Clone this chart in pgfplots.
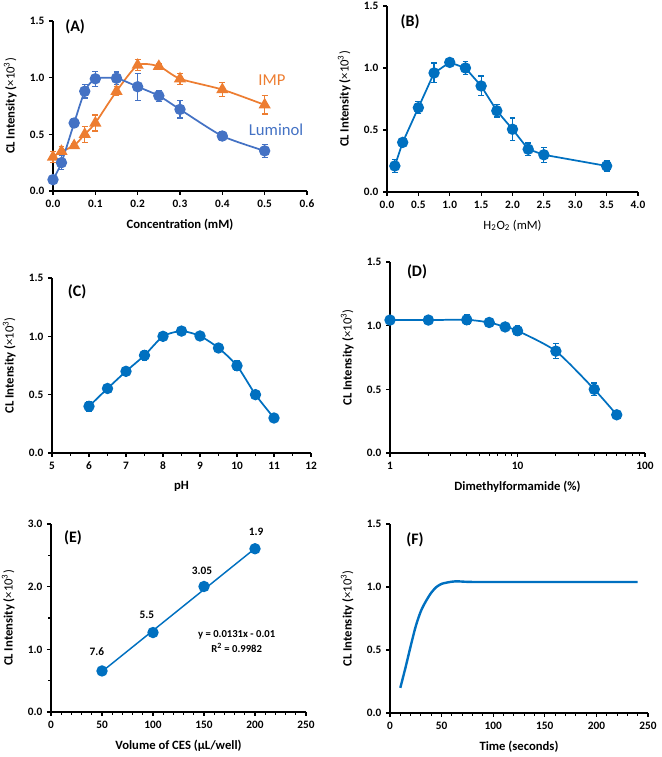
\documentclass[border=0pt]{standalone}
\usepackage{fontspec}
\setmainfont{Carlito}
\usepackage{pgfplots}
\pgfplotsset{compat=1.18}
\definecolor{lumblue}{RGB}{68,114,196}
\definecolor{imporange}{RGB}{237,125,49}
\definecolor{cblue}{RGB}{0,112,192}
\pgfplotsset{
  panel/.style={
    scale only axis, anchor=south west, clip=false,
    axis x line*=bottom, axis y line*=left,
    axis line style={line width=1pt, black},
    tick align=outside, major tick length=3pt, minor tick length=2pt,
    every tick/.style={black, line width=0.8pt},
    tick label style={font=\bfseries\fontsize{8.5}{10}\selectfont},
    label style={font=\fontsize{9.5}{11}\selectfont},
    /pgf/number format/assume math mode=true,
    ymin=0, ymax=1.5, ytick={0,0.5,1,1.5},
    yticklabel style={/pgf/number format/.cd, fixed, fixed zerofill, precision=1},
    ylabel={\bfseries CL Intensity (\mdseries×10\textsuperscript{3})},
    ylabel style={yshift=3pt},
    xlabel style={yshift=-2pt},
  },
  ser/.style={color=#1, line width=1.3pt, mark=*, mark size=3.6pt,
    mark options={fill=#1, draw=#1, solid},
    error bars/.cd, y dir=both, y explicit,
    error bar style={line width=0.9pt, #1},
    error mark options={rotate=90, mark size=2.2pt, line width=0.9pt, #1},
    /pgfplots/.cd},
}
\newcommand{\plab}[1]{\node[font=\bfseries\fontsize{12}{14}\selectfont] at (axis description cs:#1)}
\begin{document}
\begin{tikzpicture}
\useasboundingbox (0,0) rectangle (495.75pt,567.75pt);
% (A)
\begin{axis}[panel, at={(39.75pt,424.5pt)}, width=190.5pt, height=127.5pt,
  xmin=0, xmax=0.6, xtick={0,0.1,...,0.6},
  xticklabel style={/pgf/number format/.cd, fixed, fixed zerofill, precision=1},
  xlabel={\bfseries Concentration (mM)}]
\addplot[ser=imporange, smooth, tension=0.4, mark=triangle*, mark size=4pt] coordinates {
 (0,0.30) +- (0,0.05) (0.02,0.35) +- (0,0.04) (0.05,0.40) +- (0,0.02)
 (0.075,0.50) +- (0,0.07) (0.1,0.60) +- (0,0.07) (0.15,0.88) +- (0,0.04)
 (0.2,1.11) +- (0,0.05) (0.25,1.10) +- (0,0.02) (0.3,0.99) +- (0,0.05)
 (0.4,0.895) +- (0,0.06) (0.5,0.76) +- (0,0.08)};
\addplot[ser=lumblue, smooth, tension=0.4] coordinates {
 (0,0.10) +- (0,0.02) (0.02,0.25) +- (0,0.06) (0.05,0.60) +- (0,0.035)
 (0.075,0.88) +- (0,0.06) (0.1,0.99) +- (0,0.067) (0.15,0.995) +- (0,0.055)
 (0.2,0.92) +- (0,0.12) (0.25,0.84) +- (0,0.05) (0.3,0.72) +- (0,0.076)
 (0.4,0.485) +- (0,0.04) (0.5,0.354) +- (0,0.055)};
\node[text=imporange, font=\fontsize{12.5}{14}\selectfont] at (axis cs:0.517,0.98) {IMP};
\node[text=lumblue, font=\fontsize{12.5}{14}\selectfont] at (axis cs:0.527,0.538) {Luminol};
\plab{0.087,0.965} {(A)};
\end{axis}
% (B)
\begin{axis}[panel, at={(290.25pt,423.75pt)}, width=188.25pt, height=139.5pt,
  xmin=0, xmax=4, xtick={0,0.5,...,4},
  xticklabel style={/pgf/number format/.cd, fixed, fixed zerofill, precision=1},
  xlabel={H\textsubscript{2}O\textsubscript{2} (mM)}]
\addplot[ser=cblue] coordinates {
 (0.125,0.21) +- (0,0.05) (0.25,0.40) +- (0,0.03) (0.5,0.68) +- (0,0.05)
 (0.75,0.96) +- (0,0.08) (1.0,1.045) +- (0,0.03) (1.25,1.0) +- (0,0.05)
 (1.5,0.855) +- (0,0.08) (1.75,0.655) +- (0,0.05) (2.0,0.506) +- (0,0.09)
 (2.25,0.345) +- (0,0.05) (2.5,0.30) +- (0,0.06) (3.5,0.21) +- (0,0.04)};
\plab{0.092,0.914} {(B)};
\end{axis}
% (C)
\begin{axis}[panel, at={(39pt,228pt)}, width=194.25pt, height=131.25pt,
  xmin=5, xmax=12, xtick={5,...,12}, minor x tick num=1,
  xlabel={\bfseries pH}]
\addplot[ser=cblue, smooth, tension=0.4] coordinates {
 (6,0.40) +- (0,0.04) (6.5,0.553) +- (0,0.02) (7,0.70) +- (0,0.02)
 (7.5,0.837) +- (0,0.04) (8,1.0) +- (0,0.03) (8.5,1.045) +- (0,0.02)
 (9,1.003) +- (0,0.02) (9.5,0.90) +- (0,0.02) (10,0.748) +- (0,0.04)
 (10.5,0.50) +- (0,0.02) (11,0.30) +- (0,0.02)};
\plab{0.097,0.92} {(C)};
\end{axis}
% (D)
\begin{axis}[panel, at={(292.5pt,228pt)}, width=191.25pt, height=143.25pt,
  xmode=log, xmin=1, xmax=100, xtick={1,10,100}, xticklabels={1,10,100},
  xlabel={\bfseries Dimethylformamide (\%)}]
\addplot[ser=cblue, smooth, tension=0.4] coordinates {
 (1,1.044) +- (0,0.01) (2,1.044) +- (0,0.03) (4,1.046) +- (0,0.04)
 (6,1.025) +- (0,0.01) (8,0.99) +- (0,0.02) (10,0.96) +- (0,0.04)
 (20,0.80) +- (0,0.06) (40,0.50) +- (0,0.05) (60,0.30) +- (0,0.02)};
\plab{0.106,0.948} {(D)};
\end{axis}
% (E)
\begin{axis}[panel, at={(38.25pt,33.75pt)}, width=191.25pt, height=141pt,
  xmin=0, xmax=250, xtick={0,50,...,250}, minor x tick num=4,
  ymax=3, ytick={0,1,2,3}, minor y tick num=1,
  xlabel={\bfseries Volume of CES (µL/well)}]
\addplot[cblue, line width=1.1pt] coordinates {(50,0.645) (200,2.61)};
\addplot[ser=cblue, only marks] coordinates {
 (50,0.655) +- (0,0.02) (100,1.268) +- (0,0.05) (150,2.003) +- (0,0.03) (200,2.605) +- (0,0.02)};
\begin{scope}[font=\bfseries\fontsize{8.5}{10}\selectfont]
\node at (axis cs:45,0.97) {7.6};
\node at (axis cs:94,1.55) {5.5};
\node at (axis cs:148,2.25) {3.05};
\node at (axis cs:201,2.87) {1.9};
\node[font=\bfseries\fontsize{8}{10}\selectfont] at (axis cs:182,1.23) {y = 0.0131x - 0.01};
\node[font=\bfseries\fontsize{8}{10}\selectfont] at (axis cs:182,1.02) {R\textsuperscript{2} = 0.9982};
\end{scope}
\plab{0.086,0.926} {(E)};
\end{axis}
% (F)
\begin{axis}[panel, at={(292.5pt,33pt)}, width=193.5pt, height=141.75pt,
  xmin=0, xmax=250, xtick={0,50,...,250}, minor x tick num=4,
  xlabel={\bfseries Time (seconds)}]
\addplot[cblue, line width=1.8pt, smooth, tension=0.5] coordinates {
 (10,0.20) (15,0.36) (20,0.53) (25,0.69) (30,0.81) (35,0.89) (40,0.955)
 (45,1.00) (50,1.025) (55,1.035) (60,1.042) (65,1.045) (72,1.042) (80,1.04)
 (100,1.04) (150,1.04) (200,1.04) (240,1.04)};
\plab{0.097,0.915} {(F)};
\end{axis}
\end{tikzpicture}
\end{document}
